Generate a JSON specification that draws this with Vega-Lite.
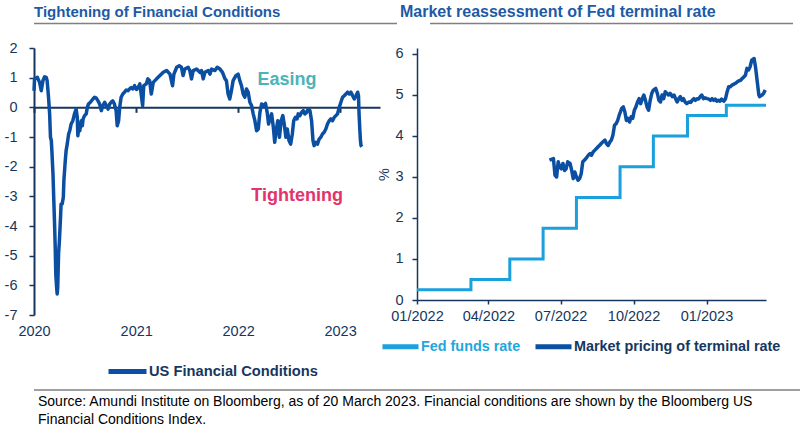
{
  "$schema": "https://vega.github.io/schema/vega-lite/v6.json",
  "padding": {"left": 4, "top": 4, "right": 0, "bottom": 0},
  "background": "white",
  "config": {
    "font": "Liberation Sans",
    "view": {"stroke": null},
    "axis": {"grid": false, "labelFont": "Liberation Sans", "labelFontSize": 14.5, "labelColor": "#17365d", "domainColor": "#17365d", "tickColor": "#17365d", "titleFont": "Liberation Sans", "labelOverlap": false}
  },
  "spacing": 7,
  "vconcat": [
    {
      "width": 759, "height": 20,
      "data": {"values": [
        {"panel": "left", "title": "Tightening of Financial Conditions"},
        {"panel": "right", "title": "Market reassessment of Fed terminal rate"}
      ]},
      "encoding": {
        "x": {"field": "panel", "type": "nominal", "scale": {"type": "band", "domain": ["left", "right"], "paddingInner": 0.0833, "paddingOuter": 0}, "axis": null}
      },
      "layer": [
        {"mark": {"type": "rect", "color": "#808080"},
         "encoding": {"y": {"datum": 8.75, "type": "quantitative", "scale": {"domain": [0, 20], "nice": false}, "axis": null}, "y2": {"datum": 10.25}}},
        {"transform": [{"filter": "datum.panel === 'left'"}],
         "mark": {"type": "text", "align": "left", "baseline": "alphabetic", "fontWeight": "bold", "fontSize": 15, "color": "#1d5aa6"},
         "encoding": {"x": {"field": "panel", "type": "nominal", "bandPosition": 0, "axis": null}, "y": {"datum": 16, "type": "quantitative"}, "text": {"field": "title"}}},
        {"transform": [{"filter": "datum.panel === 'right'"}],
         "mark": {"type": "text", "align": "left", "baseline": "alphabetic", "fontWeight": "bold", "fontSize": 16, "dx": -30, "color": "#1d5aa6"},
         "encoding": {"x": {"field": "panel", "type": "nominal", "bandPosition": 0, "axis": null}, "y": {"datum": 16, "type": "quantitative"}, "text": {"field": "title"}}}
      ]
    },
    {
      "hconcat": [
        {
          "width": 346, "height": 267,
          "data": {"values": [
            {"date": "2020-01-01", "value": 0.56}, {"date": "2020-01-03", "value": 0.96}, {"date": "2020-01-13", "value": 1.01}, {"date": "2020-01-21", "value": 0.84},
            {"date": "2020-01-27", "value": 0.56}, {"date": "2020-02-02", "value": 0.90}, {"date": "2020-02-08", "value": 1.03}, {"date": "2020-02-14", "value": 1.01},
            {"date": "2020-02-17", "value": 0.90}, {"date": "2020-02-22", "value": 0.34}, {"date": "2020-02-26", "value": -0.22}, {"date": "2020-02-29", "value": -1.01},
            {"date": "2020-03-03", "value": -1.12}, {"date": "2020-03-05", "value": -1.46}, {"date": "2020-03-09", "value": -2.25}, {"date": "2020-03-12", "value": -3.15},
            {"date": "2020-03-15", "value": -4.04}, {"date": "2020-03-17", "value": -4.72}, {"date": "2020-03-19", "value": -5.62}, {"date": "2020-03-22", "value": -6.07},
            {"date": "2020-03-24", "value": -6.29}, {"date": "2020-03-26", "value": -6.07}, {"date": "2020-03-29", "value": -4.94}, {"date": "2020-04-01", "value": -4.49},
            {"date": "2020-04-05", "value": -3.71}, {"date": "2020-04-07", "value": -3.26}, {"date": "2020-04-11", "value": -3.26}, {"date": "2020-04-15", "value": -3.03},
            {"date": "2020-04-17", "value": -2.47}, {"date": "2020-04-22", "value": -1.80}, {"date": "2020-04-25", "value": -1.46}, {"date": "2020-04-29", "value": -1.24},
            {"date": "2020-05-04", "value": -0.90}, {"date": "2020-05-08", "value": -0.79}, {"date": "2020-05-13", "value": -0.56}, {"date": "2020-05-19", "value": -0.45},
            {"date": "2020-05-25", "value": -0.22}, {"date": "2020-05-31", "value": -0.06}, {"date": "2020-06-04", "value": -0.34}, {"date": "2020-06-06", "value": -0.96},
            {"date": "2020-06-10", "value": -0.62}, {"date": "2020-06-13", "value": -0.79}, {"date": "2020-06-18", "value": -0.45}, {"date": "2020-06-22", "value": -0.62},
            {"date": "2020-06-25", "value": -0.39}, {"date": "2020-06-30", "value": -0.28}, {"date": "2020-07-06", "value": -0.22}, {"date": "2020-07-10", "value": 0.00},
            {"date": "2020-07-14", "value": 0.11}, {"date": "2020-07-21", "value": 0.17}, {"date": "2020-07-30", "value": 0.28}, {"date": "2020-08-05", "value": 0.34},
            {"date": "2020-08-11", "value": 0.31}, {"date": "2020-08-17", "value": 0.22}, {"date": "2020-08-23", "value": 0.11}, {"date": "2020-08-29", "value": -0.11},
            {"date": "2020-09-04", "value": 0.06}, {"date": "2020-09-10", "value": 0.17}, {"date": "2020-09-16", "value": 0.06}, {"date": "2020-09-22", "value": -0.06},
            {"date": "2020-09-28", "value": 0.11}, {"date": "2020-10-03", "value": 0.17}, {"date": "2020-10-09", "value": 0.22}, {"date": "2020-10-15", "value": 0.11},
            {"date": "2020-10-21", "value": -0.11}, {"date": "2020-10-25", "value": -0.62}, {"date": "2020-10-30", "value": -0.45}, {"date": "2020-11-03", "value": 0.00},
            {"date": "2020-11-08", "value": 0.34}, {"date": "2020-11-14", "value": 0.45}, {"date": "2020-11-20", "value": 0.51}, {"date": "2020-11-26", "value": 0.58},
            {"date": "2020-12-02", "value": 0.56}, {"date": "2020-12-08", "value": 0.62}, {"date": "2020-12-14", "value": 0.67}, {"date": "2020-12-20", "value": 0.62},
            {"date": "2020-12-26", "value": 0.73}, {"date": "2021-01-02", "value": 0.60}, {"date": "2021-01-08", "value": 0.67}, {"date": "2021-01-14", "value": 0.79},
            {"date": "2021-01-24", "value": 0.06}, {"date": "2021-01-28", "value": 0.73}, {"date": "2021-02-06", "value": 0.79}, {"date": "2021-02-12", "value": 0.96},
            {"date": "2021-02-18", "value": 0.90}, {"date": "2021-02-24", "value": 0.45}, {"date": "2021-03-03", "value": 0.84}, {"date": "2021-03-15", "value": 0.96},
            {"date": "2021-03-27", "value": 1.07}, {"date": "2021-04-08", "value": 1.18}, {"date": "2021-04-20", "value": 1.24}, {"date": "2021-05-02", "value": 1.12},
            {"date": "2021-05-11", "value": 0.73}, {"date": "2021-05-16", "value": 1.12}, {"date": "2021-05-26", "value": 1.35}, {"date": "2021-06-04", "value": 1.40},
            {"date": "2021-06-12", "value": 1.35}, {"date": "2021-06-18", "value": 1.07}, {"date": "2021-06-24", "value": 1.29}, {"date": "2021-07-06", "value": 1.35},
            {"date": "2021-07-12", "value": 1.24}, {"date": "2021-07-18", "value": 0.96}, {"date": "2021-07-24", "value": 1.24}, {"date": "2021-08-05", "value": 1.29},
            {"date": "2021-08-17", "value": 1.18}, {"date": "2021-08-23", "value": 1.24}, {"date": "2021-08-29", "value": 0.96}, {"date": "2021-09-04", "value": 1.18},
            {"date": "2021-09-16", "value": 1.24}, {"date": "2021-09-22", "value": 1.12}, {"date": "2021-09-28", "value": 1.29}, {"date": "2021-10-10", "value": 1.24},
            {"date": "2021-10-18", "value": 1.35}, {"date": "2021-10-28", "value": 1.29}, {"date": "2021-11-06", "value": 1.18}, {"date": "2021-11-15", "value": 0.96},
            {"date": "2021-11-20", "value": 0.90}, {"date": "2021-11-26", "value": 0.45}, {"date": "2021-12-02", "value": 0.28}, {"date": "2021-12-08", "value": 0.56},
            {"date": "2021-12-14", "value": 0.90}, {"date": "2021-12-24", "value": 1.07}, {"date": "2022-01-01", "value": 1.12}, {"date": "2022-01-07", "value": 0.90},
            {"date": "2022-01-13", "value": 0.73}, {"date": "2022-01-19", "value": 0.45}, {"date": "2022-01-25", "value": 0.34}, {"date": "2022-01-31", "value": 0.62},
            {"date": "2022-02-06", "value": 0.51}, {"date": "2022-02-12", "value": 0.17}, {"date": "2022-02-18", "value": 0.06}, {"date": "2022-02-24", "value": -0.22},
            {"date": "2022-03-02", "value": -0.45}, {"date": "2022-03-08", "value": -0.79}, {"date": "2022-03-14", "value": -0.73}, {"date": "2022-03-20", "value": -0.17},
            {"date": "2022-03-26", "value": 0.11}, {"date": "2022-04-03", "value": 0.06}, {"date": "2022-04-09", "value": 0.13}, {"date": "2022-04-15", "value": -0.17},
            {"date": "2022-04-20", "value": -0.56}, {"date": "2022-04-25", "value": -0.39}, {"date": "2022-05-01", "value": -0.22}, {"date": "2022-05-07", "value": -0.67},
            {"date": "2022-05-12", "value": -1.18}, {"date": "2022-05-17", "value": -0.79}, {"date": "2022-05-23", "value": -0.45}, {"date": "2022-05-29", "value": -1.01},
            {"date": "2022-06-04", "value": -0.45}, {"date": "2022-06-10", "value": -0.28}, {"date": "2022-06-15", "value": -0.56}, {"date": "2022-06-21", "value": -1.01},
            {"date": "2022-06-26", "value": -0.73}, {"date": "2022-07-02", "value": -1.12}, {"date": "2022-07-08", "value": -1.24}, {"date": "2022-07-14", "value": -0.90},
            {"date": "2022-07-19", "value": -0.45}, {"date": "2022-07-25", "value": -0.34}, {"date": "2022-07-31", "value": -0.39}, {"date": "2022-08-04", "value": -0.22},
            {"date": "2022-08-10", "value": -0.28}, {"date": "2022-08-16", "value": -0.17}, {"date": "2022-08-22", "value": -0.11}, {"date": "2022-08-28", "value": -0.22},
            {"date": "2022-09-03", "value": -0.17}, {"date": "2022-09-09", "value": -0.06}, {"date": "2022-09-15", "value": -0.11}, {"date": "2022-09-21", "value": -0.45},
            {"date": "2022-09-26", "value": -1.12}, {"date": "2022-09-30", "value": -1.29}, {"date": "2022-10-06", "value": -1.18}, {"date": "2022-10-12", "value": -1.24},
            {"date": "2022-10-18", "value": -1.07}, {"date": "2022-10-24", "value": -1.01}, {"date": "2022-10-30", "value": -0.90}, {"date": "2022-11-05", "value": -0.84},
            {"date": "2022-11-11", "value": -0.73}, {"date": "2022-11-17", "value": -0.56}, {"date": "2022-11-23", "value": -0.45}, {"date": "2022-11-29", "value": -0.39},
            {"date": "2022-12-05", "value": -0.45}, {"date": "2022-12-11", "value": -0.34}, {"date": "2022-12-17", "value": -0.28}, {"date": "2022-12-23", "value": -0.22},
            {"date": "2022-12-29", "value": 0.00}, {"date": "2023-01-04", "value": 0.17}, {"date": "2023-01-10", "value": 0.34}, {"date": "2023-01-16", "value": 0.39},
            {"date": "2023-01-22", "value": 0.45}, {"date": "2023-01-28", "value": 0.51}, {"date": "2023-02-03", "value": 0.45}, {"date": "2023-02-09", "value": 0.51},
            {"date": "2023-02-15", "value": 0.39}, {"date": "2023-02-21", "value": 0.28}, {"date": "2023-02-27", "value": 0.39}, {"date": "2023-03-05", "value": 0.51},
            {"date": "2023-03-08", "value": 0.39}, {"date": "2023-03-10", "value": -0.22}, {"date": "2023-03-13", "value": -0.79}, {"date": "2023-03-15", "value": -1.12},
            {"date": "2023-03-17", "value": -1.29}, {"date": "2023-03-20", "value": -1.33}
          ]},
          "encoding": {
            "x": {"field": "date", "type": "temporal",
                  "scale": {"domain": ["2020-01-01", "2023-05-24"]},
                  "axis": {"title": null, "offset": -207.67, "values": [{"year": 2020, "month": 1, "date": 1}, {"year": 2021, "month": 1, "date": 1}, {"year": 2022, "month": 1, "date": 1}, {"year": 2023, "month": 1, "date": 1}],
                           "format": "%Y", "domainWidth": 2, "tickSize": 5, "tickWidth": 2, "labelPadding": 212, "labelFlush": false, "labelOverlap": false}},
            "y": {"field": "value", "type": "quantitative",
                  "scale": {"domain": [-7, 2], "nice": false, "zero": false},
                  "axis": {"title": null, "values": [-7, -6, -5, -4, -3, -2, -1, 0, 1, 2], "labelExpr": "'' + datum.value", "labelOverlap": false, "labelFlush": false, "domainWidth": 2, "tickSize": 5, "tickWidth": 1.5, "labelPadding": 12}}
          },
          "layer": [
            {
              "mark": {"type": "line", "strokeWidth": 3.5, "strokeJoin": "round"},
              "encoding": {
                "color": {"datum": "US Financial Conditions", "type": "nominal",
                          "scale": {"domain": ["US Financial Conditions"], "range": ["#0b4fa3"]},
                          "legend": {"title": null, "orient": "none", "legendX": 72, "legendY": 302, "direction": "horizontal", "symbolType": "stroke", "symbolSize": 1444, "symbolStrokeWidth": 5, "labelFontSize": 14.7, "labelFontWeight": "bold", "labelColor": "#16375f", "labelOffset": 0, "labelLimit": 400}}
              }
            },
            {
              "data": {"values": [{"date": "2022-06-25", "value": 0.91, "label": "Easing"}]},
              "mark": {"type": "text", "fontSize": 18, "fontWeight": "bold", "color": "#4ab4b8"},
              "encoding": {"text": {"field": "label"}}
            },
            {
              "data": {"values": [{"date": "2022-07-31", "value": -3.0, "label": "Tightening"}]},
              "mark": {"type": "text", "fontSize": 18, "fontWeight": "bold", "color": "#e2336b"},
              "encoding": {"text": {"field": "label"}}
            }
          ]
        },
        {
          "width": 349, "height": 252,
          "encoding": {
            "x": {"field": "date", "type": "temporal",
                  "scale": {"domain": ["2022-01-01", "2023-03-17"]},
                  "axis": {"title": null, "values": [{"year": 2022, "month": 1, "date": 1}, {"year": 2022, "month": 4, "date": 1}, {"year": 2022, "month": 7, "date": 1}, {"year": 2022, "month": 10, "date": 1}, {"year": 2023, "month": 1, "date": 1}],
                           "format": "%m/%Y", "domainWidth": 1.5, "tickSize": 4, "tickWidth": 1.5, "labelPadding": 5, "labelFlush": false, "labelOverlap": false}},
            "y": {"field": "value", "type": "quantitative",
                  "scale": {"domain": [0, 6.146], "nice": false, "zero": true},
                  "axis": {"title": "%", "titleFontSize": 14.5, "titleFontWeight": "normal", "titleColor": "#17365d", "titlePadding": 3, "values": [0, 1, 2, 3, 4, 5, 6], "labelExpr": "'' + datum.value", "labelOverlap": false, "labelFlush": false, "domainWidth": 1.5, "tickSize": 5, "tickWidth": 1.5, "labelPadding": 9}}
          },
          "layer": [
            {
              "data": {"values": [
                {"date": "2022-01-01", "value": 0.25}, {"date": "2022-03-10", "value": 0.5}, {"date": "2022-04-28", "value": 1.0},
                {"date": "2022-06-09", "value": 1.75}, {"date": "2022-07-21", "value": 2.5}, {"date": "2022-09-14", "value": 3.25},
                {"date": "2022-10-26", "value": 4.0}, {"date": "2022-12-08", "value": 4.5}, {"date": "2023-01-26", "value": 4.75},
                {"date": "2023-03-17", "value": 4.75}
              ]},
              "mark": {"type": "line", "interpolate": "step-after", "strokeWidth": 3},
              "encoding": {
                "color": {"datum": "Fed funds rate", "type": "nominal",
                          "scale": {"domain": ["Fed funds rate", "Market pricing of terminal rate"], "range": ["#1aa0dc", "#0b4fa3"]},
                          "legend": {"title": null, "orient": "none", "legendX": -37, "legendY": 278, "direction": "horizontal", "symbolType": "stroke", "symbolSize": 1296, "symbolStrokeWidth": 5, "labelFontSize": 14.4, "labelFontWeight": "bold", "labelOffset": 0, "columnPadding": 4, "labelLimit": 400,
                                     "encode": {"labels": {"update": {"fill": {"signal": "datum.label === 'Fed funds rate' ? '#1ea6de' : '#16375f'"}}}}}}
              }
            },
            {
              "data": {"values": [
                {"date": "2022-06-17", "value": 3.41}, {"date": "2022-06-22", "value": 3.45}, {"date": "2022-06-24", "value": 3.04}, {"date": "2022-06-26", "value": 3.00},
                {"date": "2022-06-28", "value": 3.37}, {"date": "2022-06-30", "value": 3.24}, {"date": "2022-07-02", "value": 3.20}, {"date": "2022-07-04", "value": 3.33},
                {"date": "2022-07-06", "value": 3.16}, {"date": "2022-07-08", "value": 3.20}, {"date": "2022-07-10", "value": 3.37}, {"date": "2022-07-13", "value": 3.33},
                {"date": "2022-07-15", "value": 3.16}, {"date": "2022-07-17", "value": 2.96}, {"date": "2022-07-19", "value": 3.12}, {"date": "2022-07-21", "value": 3.00},
                {"date": "2022-07-23", "value": 2.92}, {"date": "2022-07-25", "value": 2.96}, {"date": "2022-07-27", "value": 3.08}, {"date": "2022-07-29", "value": 3.37},
                {"date": "2022-07-31", "value": 3.41}, {"date": "2022-08-02", "value": 3.45}, {"date": "2022-08-05", "value": 3.53}, {"date": "2022-08-07", "value": 3.57},
                {"date": "2022-08-09", "value": 3.53}, {"date": "2022-08-11", "value": 3.61}, {"date": "2022-08-13", "value": 3.65}, {"date": "2022-08-15", "value": 3.69},
                {"date": "2022-08-17", "value": 3.73}, {"date": "2022-08-19", "value": 3.77}, {"date": "2022-08-21", "value": 3.81}, {"date": "2022-08-23", "value": 3.85},
                {"date": "2022-08-26", "value": 3.90}, {"date": "2022-08-28", "value": 3.81}, {"date": "2022-08-30", "value": 3.77}, {"date": "2022-09-01", "value": 3.85},
                {"date": "2022-09-03", "value": 3.90}, {"date": "2022-09-05", "value": 4.02}, {"date": "2022-09-07", "value": 4.26}, {"date": "2022-09-09", "value": 4.30},
                {"date": "2022-09-11", "value": 4.38}, {"date": "2022-09-13", "value": 4.51}, {"date": "2022-09-16", "value": 4.67}, {"date": "2022-09-18", "value": 4.71},
                {"date": "2022-09-20", "value": 4.59}, {"date": "2022-09-22", "value": 4.38}, {"date": "2022-09-24", "value": 4.43}, {"date": "2022-09-26", "value": 4.34},
                {"date": "2022-09-28", "value": 4.47}, {"date": "2022-09-30", "value": 4.43}, {"date": "2022-10-02", "value": 4.63}, {"date": "2022-10-04", "value": 4.71},
                {"date": "2022-10-06", "value": 4.83}, {"date": "2022-10-08", "value": 4.91}, {"date": "2022-10-10", "value": 4.79}, {"date": "2022-10-12", "value": 4.91},
                {"date": "2022-10-14", "value": 5.00}, {"date": "2022-10-16", "value": 4.87}, {"date": "2022-10-18", "value": 4.71}, {"date": "2022-10-20", "value": 4.63},
                {"date": "2022-10-22", "value": 4.87}, {"date": "2022-10-24", "value": 5.04}, {"date": "2022-10-26", "value": 5.12}, {"date": "2022-10-29", "value": 5.16},
                {"date": "2022-10-31", "value": 5.04}, {"date": "2022-11-02", "value": 4.87}, {"date": "2022-11-04", "value": 4.83}, {"date": "2022-11-06", "value": 5.00},
                {"date": "2022-11-08", "value": 4.91}, {"date": "2022-11-10", "value": 5.08}, {"date": "2022-11-12", "value": 5.04}, {"date": "2022-11-14", "value": 5.00},
                {"date": "2022-11-16", "value": 5.04}, {"date": "2022-11-19", "value": 4.96}, {"date": "2022-11-21", "value": 5.00}, {"date": "2022-11-23", "value": 4.91},
                {"date": "2022-11-25", "value": 4.83}, {"date": "2022-11-27", "value": 4.91}, {"date": "2022-11-29", "value": 4.96}, {"date": "2022-12-01", "value": 4.87},
                {"date": "2022-12-03", "value": 4.91}, {"date": "2022-12-05", "value": 4.83}, {"date": "2022-12-07", "value": 4.79}, {"date": "2022-12-10", "value": 4.83},
                {"date": "2022-12-12", "value": 4.82}, {"date": "2022-12-14", "value": 4.87}, {"date": "2022-12-16", "value": 4.91}, {"date": "2022-12-18", "value": 4.87},
                {"date": "2022-12-20", "value": 4.91}, {"date": "2022-12-22", "value": 4.90}, {"date": "2022-12-24", "value": 4.96}, {"date": "2022-12-26", "value": 5.00},
                {"date": "2022-12-28", "value": 4.91}, {"date": "2022-12-30", "value": 4.93}, {"date": "2023-01-02", "value": 4.91}, {"date": "2023-01-04", "value": 4.90},
                {"date": "2023-01-06", "value": 4.87}, {"date": "2023-01-08", "value": 4.91}, {"date": "2023-01-10", "value": 4.87}, {"date": "2023-01-12", "value": 4.90},
                {"date": "2023-01-14", "value": 4.85}, {"date": "2023-01-16", "value": 4.87}, {"date": "2023-01-18", "value": 4.85}, {"date": "2023-01-20", "value": 4.90},
                {"date": "2023-01-23", "value": 4.85}, {"date": "2023-01-25", "value": 4.91}, {"date": "2023-01-27", "value": 5.08}, {"date": "2023-01-29", "value": 5.20},
                {"date": "2023-01-31", "value": 5.20}, {"date": "2023-02-02", "value": 5.24}, {"date": "2023-02-04", "value": 5.26}, {"date": "2023-02-06", "value": 5.28},
                {"date": "2023-02-08", "value": 5.31}, {"date": "2023-02-10", "value": 5.34}, {"date": "2023-02-13", "value": 5.36}, {"date": "2023-02-15", "value": 5.40},
                {"date": "2023-02-17", "value": 5.44}, {"date": "2023-02-19", "value": 5.48}, {"date": "2023-02-21", "value": 5.65}, {"date": "2023-02-23", "value": 5.61},
                {"date": "2023-02-25", "value": 5.69}, {"date": "2023-02-27", "value": 5.85}, {"date": "2023-03-02", "value": 5.89}, {"date": "2023-03-04", "value": 5.65},
                {"date": "2023-03-07", "value": 5.16}, {"date": "2023-03-08", "value": 5.00}, {"date": "2023-03-09", "value": 4.96}, {"date": "2023-03-12", "value": 5.00},
                {"date": "2023-03-14", "value": 5.04}, {"date": "2023-03-16", "value": 5.12}
              ]},
              "mark": {"type": "line", "strokeWidth": 3.5, "strokeJoin": "round"},
              "encoding": {
                "color": {"datum": "Market pricing of terminal rate", "type": "nominal"}
              }
            }
          ]
        }
      ],
      "spacing": 37,
      "bounds": "flush",
      "align": "none",
      "resolve": {"scale": {"color": "independent", "x": "independent", "y": "independent"}, "legend": {"color": "independent"}}
    },
    {
      "width": 779, "height": 1,
      "data": {"values": [{"source": "Source: Amundi Institute on Bloomberg, as of 20 March 2023. Financial conditions are shown by the Bloomberg US\nFinancial Conditions Index."}]},
      "layer": [
        {"mark": {"type": "rule", "color": "#404040", "strokeWidth": 1},
         "encoding": {"x": {"datum": 0, "type": "quantitative", "scale": {"domain": [0, 1]}, "axis": null}, "x2": {"datum": 1}, "y": {"datum": 1, "type": "quantitative", "scale": {"domain": [0, 1]}, "axis": null}}},
        {"mark": {"type": "text", "align": "left", "baseline": "top", "dx": 4, "dy": 5, "fontSize": 14, "lineBreak": "\n", "lineHeight": 18, "color": "#000000"},
         "encoding": {"x": {"datum": 0, "type": "quantitative"}, "y": {"datum": 1, "type": "quantitative"}, "text": {"field": "source"}}}
      ]
    }
  ]
}
